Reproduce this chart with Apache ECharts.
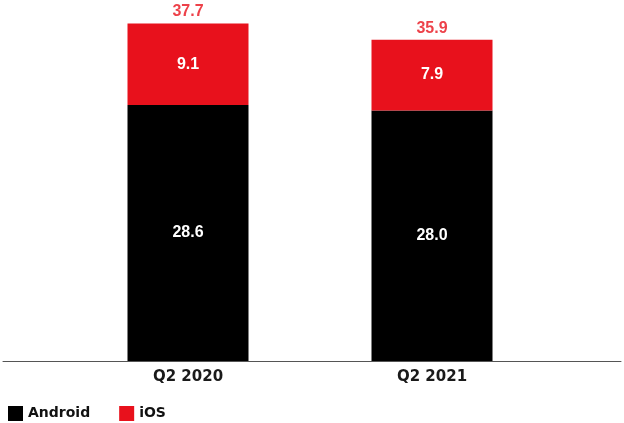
<!DOCTYPE html>
<html><head><meta charset="utf-8">
<script src="https://cdn.jsdelivr.net/npm/echarts@6/dist/echarts.min.js"></script>
<style>html,body{margin:0;padding:0;background:#fff}#c{width:624px;height:423px}</style>
</head><body><div id="c"></div>
<script>
const categories = ['Q2 2020', 'Q2 2021'];
const android = [28.6, 28.0];
const ios = [9.1, 7.9];
const totals = [37.7, 35.9];

const RED = '#E8111C';
const FONT = '"Liberation Sans", Arial, sans-serif';
const FONT2 = '"DejaVu Sans", sans-serif';
const chart = echarts.init(document.getElementById('c'));
chart.setOption({
  animation: false,
  grid: [
    {left: 3, right: 3, top: 3, bottom: 62},
    {left: 66, right: 70, top: 3, bottom: 62}
  ],
  xAxis: [
    {gridIndex: 0, type: 'category', data: categories, axisLine: {lineStyle: {color: '#555', width: 1}}, axisTick: {show: false}, axisLabel: {show: false}},
    {gridIndex: 1, type: 'category', data: categories, axisLine: {show: false}, axisTick: {show: false},
     axisLabel: {color: '#1a1a1a', fontFamily: FONT2, fontWeight: 'bold', fontSize: 15, margin: 9}}
  ],
  yAxis: [
    {gridIndex: 0, type: 'value', min: 0, max: 40, show: false},
    {gridIndex: 1, type: 'value', min: 0, max: 40, show: false}
  ],
  legend: {
    left: 3, top: 401, icon: 'rect', itemWidth: 15, itemHeight: 15, itemGap: 29,
    textStyle: {color: '#111', fontFamily: FONT2, fontWeight: 'bold', fontSize: 14},
    data: ['Android', 'iOS']
  },
  series: [
    {name: 'Android', type: 'bar', xAxisIndex: 1, yAxisIndex: 1, stack: 't', data: android, barWidth: 121,
     itemStyle: {color: '#000'},
     label: {show: true, position: 'inside', color: '#fff', fontFamily: FONT, fontWeight: 'bold', fontSize: 16, formatter: p => p.value.toFixed(1)}},
    {name: 'iOS', type: 'bar', xAxisIndex: 1, yAxisIndex: 1, stack: 't', data: ios, barWidth: 121,
     itemStyle: {color: RED},
     label: {show: true, position: 'inside', color: '#fff', fontFamily: FONT, fontWeight: 'bold', fontSize: 16, formatter: p => p.value.toFixed(1)}},
    {name: 'total', type: 'scatter', xAxisIndex: 1, yAxisIndex: 1, data: totals, symbolSize: 1,
     itemStyle: {color: 'rgba(0,0,0,0)'}, silent: true,
     label: {show: true, position: 'top', distance: 3, color: RED, fontFamily: FONT, fontWeight: 'bold', fontSize: 16, formatter: p => p.value.toFixed(1)}}
  ]
});
</script></body></html>
